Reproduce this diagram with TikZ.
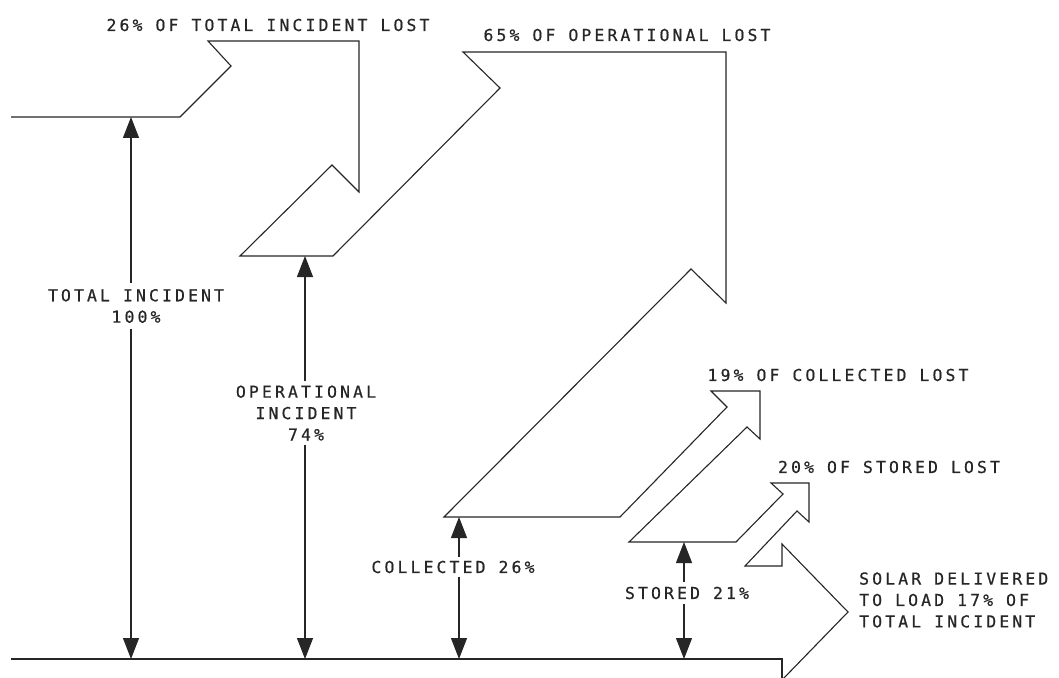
\documentclass[tikz,border=0pt]{standalone}
\usepackage{fontspec}
\newfontfamily\plotfont[LetterSpace=19,FakeBold=0.6]{DejaVu Sans Mono}
\usetikzlibrary{arrows.meta}
\begin{document}
\begin{tikzpicture}[x=1bp,y=-1bp,
  flow/.style={draw=black!85, line width=1.1bp, line join=miter},
  dim/.style={draw=black!85, line width=1.1bp, -{Triangle[width=16bp,length=21bp]}},
  lbl/.style={font={\plotfont\fontsize{16.5}{21.5}\selectfont}, text=black!85, inner sep=0pt}]
\useasboundingbox (0,0) rectangle (1059,678);
\fill[white] (0,0) rectangle (1059,678);
\begin{scope}
\clip (0,0) rectangle (1059,678);
% upper boundary of the flow
\draw[flow] (11,117) -- (180,117) -- (231,66) -- (208,41) -- (359,41) -- (359,192)
  -- (332,165) -- (240,256) -- (333,256) -- (500,88) -- (463,52) -- (726,52)
  -- (726,303) -- (691,269) -- (444,517) -- (620,517) -- (727,407) -- (711,391)
  -- (760,391) -- (760,439) -- (747,427) -- (629,542) -- (736,542) -- (783,494)
  -- (771,483) -- (809,483) -- (809,522) -- (797,511) -- (745,566) -- (782,566)
  -- (782,544) -- (848,612) -- (782,680);
% bottom line
\draw[flow] (11,659) -- (782,659) -- (782,680);
\end{scope}
% loss labels
\node[lbl] (l26) at (268,25) {26\% OF TOTAL INCIDENT LOST};
\node[lbl] (l65) at (627,35) {65\% OF OPERATIONAL LOST};
\node[lbl] (l19) at (838,375) {19\% OF COLLECTED LOST};
\node[lbl] (l20) at (889,467) {20\% OF STORED LOST};
\node[lbl, align=left, anchor=west] (lsol) at (859,600) {SOLAR DELIVERED\\TO LOAD 17\% OF\\TOTAL INCIDENT};
% dimension arrows
\coordinate (t1) at (131,117); \coordinate (b1) at (131,659);
\coordinate (t2) at (305,256); \coordinate (b2) at (305,659);
\coordinate (t3) at (459,517); \coordinate (b3) at (459,659);
\coordinate (t4) at (684,542); \coordinate (b4) at (684,659);
\node[lbl, align=center, inner ysep=6bp] (ltot) at (136,306) {TOTAL INCIDENT\\100\%};
\node[lbl, align=center, inner ysep=4bp] (lop) at (306,413) {OPERATIONAL\\INCIDENT\\74\%};
\node[lbl, inner ysep=4bp] (lcol) at (453,567) {COLLECTED 26\%};
\node[lbl, inner ysep=5bp] (lsto) at (687,593) {STORED 21\%};
\draw[dim] (t1 |- ltot.north) -- (t1);
\draw[dim] (t1 |- ltot.south) -- (b1);
\draw[dim] (t2 |- lop.north) -- (t2);
\draw[dim] (t2 |- lop.south) -- (b2);
\draw[dim] (t3 |- lcol.north) -- (t3);
\draw[dim] (t3 |- lcol.south) -- (b3);
\draw[dim] (t4 |- lsto.north) -- (t4);
\draw[dim] (t4 |- lsto.south) -- (b4);
\end{tikzpicture}
\end{document}
